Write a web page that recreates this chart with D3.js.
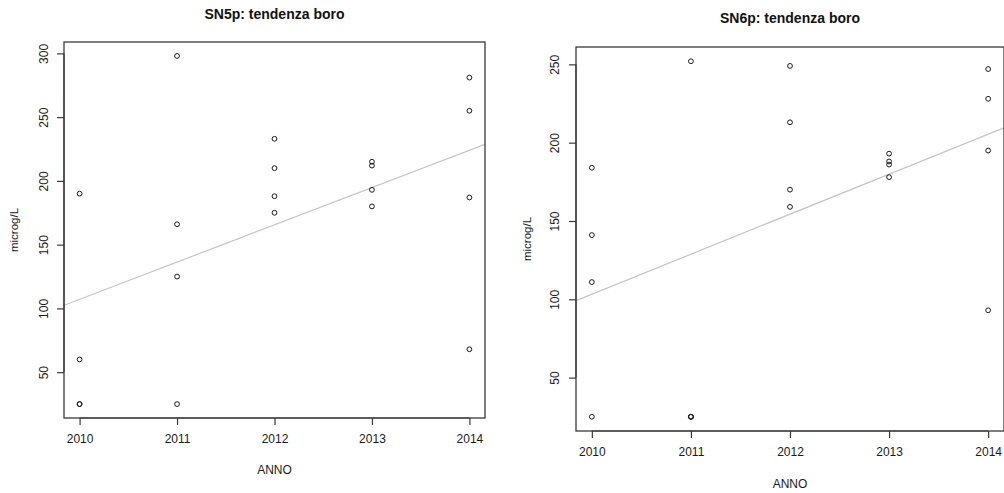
<!DOCTYPE html>
<html>
<head>
<meta charset="utf-8">
<script src="https://cdn.jsdelivr.net/npm/d3@7"></script>
<style>
  html, body { margin: 0; padding: 0; background: #fff; }
  svg { display: block; font-family: "Liberation Sans", Arial, sans-serif; }
</style>
</head>
<body>
<svg id="chart" width="1004" height="493"></svg>
<script>
// ---- Data ----
const years = [2010, 2011, 2012, 2013, 2014];
const xTickLabels = ["2010", "2011", "2012", "2013", "2014"];

// SN5p: four samples per year
const sn5pYears  = [2010, 2010, 2010, 2010, 2011, 2011, 2011, 2011, 2012, 2012, 2012, 2012, 2013, 2013, 2013, 2013, 2014, 2014, 2014, 2014];
const sn5pValues = [190, 60, 25, 25, 298, 166, 125, 25, 233, 210, 188, 175, 215, 212, 193, 180, 281, 255, 187, 68];
const sn5pYTicks = [50, 100, 150, 200, 250, 300];

// SN6p: four samples per year
const sn6pYears  = [2010, 2010, 2010, 2010, 2011, 2011, 2011, 2011, 2012, 2012, 2012, 2012, 2013, 2013, 2013, 2013, 2014, 2014, 2014, 2014];
const sn6pValues = [184, 141, 111, 25, 252, 25, 25, 25, 249, 213, 170, 159, 193, 188, 186, 178, 247, 228, 195, 93];
const sn6pYTicks = [50, 100, 150, 200, 250];

const titles = ["SN5p: tendenza boro", "SN6p: tendenza boro"];
const xLabel = "ANNO";
const yLabel = "microg/L";

// ---- Drawing ----
const svg = d3.select("#chart");

function rRange(vals) {
  const lo = d3.min(vals), hi = d3.max(vals);
  const pad = (hi - lo) * 0.04;
  return [lo - pad, hi + pad];
}

function linFit(xs, ys) {
  const mx = d3.mean(xs), my = d3.mean(ys);
  let sxy = 0, sxx = 0;
  xs.forEach((x, i) => { sxy += (x - mx) * (ys[i] - my); sxx += (x - mx) * (x - mx); });
  const b = sxy / sxx;
  return { a: my - b * mx, b: b };
}

function panel(cfg) {
  const g = svg.append("g");
  const xDom = rRange(years);
  const yDom = rRange(cfg.values);
  const x = d3.scaleLinear().domain(xDom).range([cfg.x0, cfg.x1]);
  const y = d3.scaleLinear().domain(yDom).range([cfg.y1, cfg.y0]);

  // clip for regression line
  const clipId = "clip" + cfg.id;
  svg.append("defs").append("clipPath").attr("id", clipId)
    .append("rect").attr("x", cfg.x0).attr("y", cfg.y0)
    .attr("width", cfg.x1 - cfg.x0).attr("height", cfg.y1 - cfg.y0);

  // regression line
  const fit = linFit(cfg.years, cfg.values);
  g.append("line")
    .attr("clip-path", `url(#${clipId})`)
    .attr("x1", x(xDom[0])).attr("y1", y(fit.a + fit.b * xDom[0]))
    .attr("x2", x(xDom[1])).attr("y2", y(fit.a + fit.b * xDom[1]))
    .attr("stroke", "#c4c4c4").attr("stroke-width", 1.2);

  // points
  g.selectAll("circle.pt").data(cfg.values).enter().append("circle")
    .attr("class", "pt")
    .attr("cx", (d, i) => x(cfg.years[i]))
    .attr("cy", d => y(d))
    .attr("r", 2.4)
    .attr("fill", "none").attr("stroke", "#1a1a1a").attr("stroke-width", 1);

  // box
  g.append("rect")
    .attr("x", cfg.x0).attr("y", cfg.y0)
    .attr("width", cfg.x1 - cfg.x0).attr("height", cfg.y1 - cfg.y0)
    .attr("fill", "none").attr("stroke", "#3a3a3a").attr("stroke-width", 1.3);

  // x axis
  const xAxis = d3.axisBottom(x).tickValues(years)
    .tickFormat((d, i) => xTickLabels[i]).tickSize(7).tickPadding(9);
  const xg = g.append("g").attr("transform", `translate(0,${cfg.y1})`).call(xAxis);
  xg.select(".domain").attr("d", `M${x(years[0])},0H${x(years[years.length - 1])}`)
    .attr("stroke", "#3a3a3a").attr("stroke-width", 1.2);
  xg.selectAll(".tick line").attr("stroke", "#3a3a3a").attr("stroke-width", 1.2);
  xg.selectAll("text").attr("font-size", 12).attr("fill", "#1a1a1a")
    .attr("font-family", "Liberation Sans, Arial, sans-serif");

  // y axis
  const yAxis = d3.axisLeft(y).tickValues(cfg.yTicks).tickSize(7).tickFormat(d3.format("d"));
  const yg = g.append("g").attr("transform", `translate(${cfg.x0},0)`).call(yAxis);
  yg.select(".domain").attr("d", `M0,${y(cfg.yTicks[0])}V${y(cfg.yTicks[cfg.yTicks.length - 1])}`)
    .attr("stroke", "#3a3a3a").attr("stroke-width", 1.2);
  yg.selectAll(".tick line").attr("stroke", "#3a3a3a").attr("stroke-width", 1.2);
  yg.selectAll(".tick text")
    .attr("x", null).attr("dy", null)
    .attr("text-anchor", "middle")
    .attr("transform", `translate(${-cfg.yLabOff},0) rotate(-90)`)
    .attr("font-size", 12).attr("fill", "#1a1a1a")
    .attr("font-family", "Liberation Sans, Arial, sans-serif");

  // title
  g.append("text")
    .attr("x", (cfg.x0 + cfg.x1) / 2).attr("y", cfg.titleY)
    .attr("text-anchor", "middle")
    .attr("font-size", 14).attr("font-weight", "bold").attr("fill", "#111")
    .text(cfg.title);

  // x label
  g.append("text")
    .attr("x", (cfg.x0 + cfg.x1) / 2).attr("y", cfg.xLabY)
    .attr("text-anchor", "middle").attr("font-size", 12).attr("fill", "#1a1a1a")
    .text(xLabel);

  // y label
  g.append("text")
    .attr("transform", `translate(${cfg.yTitleX},${(cfg.y0 + cfg.y1) / 2}) rotate(-90)`)
    .attr("text-anchor", "middle").attr("font-size", 11.5).attr("fill", "#1a1a1a")
    .text(yLabel);
}

panel({ id: 1, years: sn5pYears, values: sn5pValues, yTicks: sn5pYTicks, title: titles[0],
        x0: 64, x1: 485, y0: 42, y1: 418, titleY: 19, xLabY: 474, yTitleX: 18, yLabOff: 16.5 });
panel({ id: 2, years: sn6pYears, values: sn6pValues, yTicks: sn6pYTicks, title: titles[1],
        x0: 576, x1: 1004, y0: 47, y1: 431, titleY: 23, xLabY: 488, yTitleX: 531, yLabOff: 17.5 });
</script>
</body>
</html>
